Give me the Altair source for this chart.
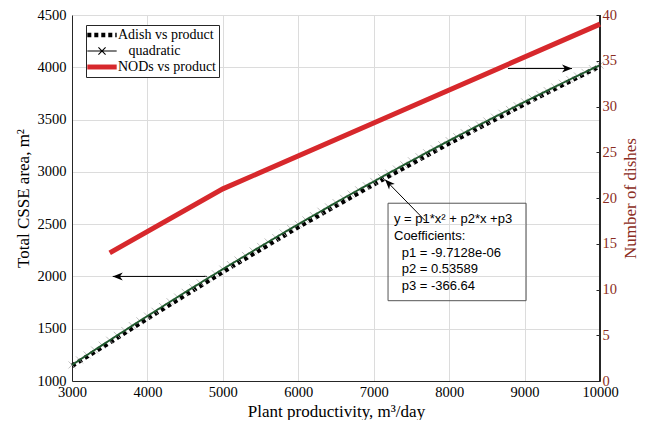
import altair as alt
import pandas as pd

SERIES = ["Adish vs product", "\u200b\u00a0\u00a0\u00a0quadratic", "NODs vs product"]
LEGEND_COLORS = ["#000000", "#000000", "#d7282c"]
ADISH_COLOR = "#000000"
QUAD_COLOR = "#1f5a2d"
NODS_COLOR = "#d7282c"

# Adish vs product (left axis)
adish_x = [3000, 3500, 4000, 5000, 6000, 7000, 8000, 9000, 10000]
adish_y = [1145, 1368, 1598, 2043, 2472, 2880, 3273, 3648, 4012]

# quadratic fit (left axis)
quad_x = list(range(3000, 10001, 100))
quad_y = [1153.6, 1201.3, 1248.8, 1296.0, 1343.1, 1390.0, 1436.7, 1483.2, 1529.5, 1575.6,
          1621.5, 1667.2, 1712.8, 1758.1, 1803.2, 1848.2, 1892.9, 1937.5, 1981.8, 2026.0,
          2070.0, 2113.8, 2157.4, 2200.7, 2243.9, 2286.9, 2329.7, 2372.4, 2414.8, 2457.0,
          2499.0, 2540.9, 2582.5, 2624.0, 2665.2, 2706.3, 2747.1, 2787.8, 2828.3, 2868.6,
          2908.6, 2948.5, 2988.2, 3027.7, 3067.0, 3106.2, 3145.1, 3183.8, 3222.3, 3260.7,
          3298.8, 3336.8, 3374.5, 3412.1, 3449.5, 3486.6, 3523.6, 3560.4, 3597.0, 3633.4,
          3669.6, 3705.6, 3741.4, 3777.0, 3812.4, 3847.7, 3882.7, 3917.6, 3952.2, 3986.7,
          4020.9]

# NODs vs product (right axis)
nods_x = [3500, 5000, 7500, 10000]
nods_y = [14, 21, 30, 39]

x_ticks = [3000, 4000, 5000, 6000, 7000, 8000, 9000, 10000]
y_left_ticks = [1000, 1500, 2000, 2500, 3000, 3500, 4000, 4500]
y_right_ticks = [0, 5, 10, 15, 20, 25, 30, 35, 40]

fit_head = ["y = p1*x\u00b2 + p2*x +p3", "Coefficients:"]
fit_coef = ["p1 = -9.7128e-06", "p2 = 0.53589", "p3 = -366.64"]
fit_head_x = 7269
fit_head_y = 2510
fit_coef_x = 7371
fit_coef_y = 2190
fit_box_x = [7190, 9020]
fit_box_y = [1768, 2700]

arrow_tail_x = [4790, 8780, 7680]
arrow_tail_y = [2000, 3988, 2535]
arrow_tip_x = [3540, 9629, 7150]
arrow_tip_y = [2000, 3988, 2926]
arrow_angle = [180, 0, 226]

SERIF = "Liberation Serif"
SANS = "Liberation Sans"
AX = "#262626"

# legend symbol shapes (unit coords, filled)
ADISH_PATH = ("M-2.67,-0.41H-1.94V0.41H-2.67Z M-1.4,-0.41H-0.67V0.41H-1.4Z "
              "M-0.13,-0.41H0.6V0.41H-0.13Z M1.14,-0.41H1.87V0.41H1.14Z M2.41,-0.41H2.67V0.41H2.41Z")
QUAD_PATH = ("M-2.67,-0.09H2.67V0.09H-2.67Z M-0.58,-0.72L0.72,0.58L0.58,0.72L-0.72,-0.58Z "
             "M-0.72,0.58L0.58,-0.72L0.72,-0.58L-0.58,0.72Z")
NODS_PATH = "M-2.67,-0.45H2.67V0.45H-2.67Z"
X_MARK = "M-1,-1L1,1M-1,1L1,-1"
ARROW_HEAD = "M0,0L-1,-0.4L-0.72,0L-1,0.4Z"

adish_df = pd.DataFrame({"x": adish_x, "y": adish_y})
quad_df = pd.DataFrame({"x": quad_x, "y": quad_y})
nods_df = pd.DataFrame({"x": nods_x, "y": nods_y})
arrows_df = pd.DataFrame({"x": arrow_tail_x, "y": arrow_tail_y,
                          "x2": arrow_tip_x, "y2": arrow_tip_y, "angle": arrow_angle})
box_df = pd.DataFrame({"x": [fit_box_x[0]], "x2": [fit_box_x[1]],
                       "y": [fit_box_y[0]], "y2": [fit_box_y[1]]})
text_data = alt.InlineData(values=[{"x": fit_head_x, "y": fit_head_y, "t": fit_head},
                                   {"x": fit_coef_x, "y": fit_coef_y, "t": fit_coef}])
empty_data = alt.InlineData(values=[])

xscale = alt.Scale(domain=[x_ticks[0], x_ticks[-1]], nice=False)
yl_scale = alt.Scale(domain=[y_left_ticks[0], y_left_ticks[-1]], nice=False)
yr_scale = alt.Scale(domain=[y_right_ticks[0], y_right_ticks[-1]], nice=False)

x_axis = alt.Axis(values=x_ticks, format="d", title="Plant productivity, m\u00b3/day",
                  grid=True, gridColor="#dcdcdc", ticks=False, tickSize=0,
                  domainColor=AX, labelPadding=4, titlePadding=5, labelFlush=False,
                  labelOverlap=False, labelFont=SERIF, labelFontSize=14.5, labelColor="black",
                  titleFont=SERIF, titleFontSize=17, titleFontWeight="normal", titleColor="black")
yl_axis = alt.Axis(values=y_left_ticks, format="d", title="Total CSSE area, m\u00b2",
                   grid=True, gridColor="#dcdcdc", ticks=False, tickSize=0,
                   domainColor=AX, labelPadding=6, titlePadding=5, labelFlush=False,
                   labelOverlap=False, labelFont=SERIF, labelFontSize=14.5, labelColor="black",
                   titleFont=SERIF, titleFontSize=17, titleFontWeight="normal", titleColor="black")
yr_axis = alt.Axis(orient="right", values=y_right_ticks, format="d", title="Number of dishes",
                   grid=False, ticks=True, tickSize=4, offset=-4, tickColor=AX,
                   domain=False, labelPadding=2, titlePadding=6, labelFlush=False,
                   labelOverlap=False, labelFont=SERIF, labelFontSize=14.5,
                   labelColor="#8b2c22", titleColor="#8b2c22",
                   titleFont=SERIF, titleFontSize=17, titleFontWeight="normal",
                   titleAngle=270, titleBaseline="top")

X = alt.X("x:Q", scale=xscale, axis=x_axis)
YL = alt.Y("y:Q", scale=yl_scale, axis=yl_axis)

legend_layer = alt.Chart(empty_data).mark_point(filled=True, opacity=1, strokeWidth=0).encode(
    x=X, y=YL,
    fill=alt.Fill("series:N", scale=alt.Scale(domain=SERIES, range=LEGEND_COLORS),
                  legend=alt.Legend(title=None, labelFont=SERIF, labelFontSize=14)),
    shape=alt.Shape("series:N", scale=alt.Scale(domain=SERIES, range=[ADISH_PATH, QUAD_PATH, NODS_PATH]),
                    legend=alt.Legend(title=None, labelFont=SERIF, labelFontSize=14)),
)

box = alt.Chart(box_df).mark_rect(fillOpacity=0, stroke="#555555", strokeWidth=1).encode(
    x=X, x2="x2:Q", y=YL, y2="y2:Q")
text = alt.Chart(text_data).mark_text(align="left", baseline="alphabetic", font=SANS,
                                      fontSize=13, lineHeight=16.7, color="black").encode(
    x=X, y=YL, text="t:N")
arrow_lines = alt.Chart(arrows_df).mark_rule(color="black", strokeWidth=1).encode(
    x=X, x2="x2:Q", y=YL, y2="y2:Q")
arrow_heads = alt.Chart(arrows_df).mark_point(shape=ARROW_HEAD, filled=True, size=400,
                                              color="black", opacity=1).encode(
    x=alt.X("x2:Q", scale=xscale, axis=x_axis),
    y=alt.Y("y2:Q", scale=yl_scale, axis=yl_axis),
    angle=alt.Angle("angle:Q", scale=None))

adish = alt.Chart(adish_df).mark_line(color=ADISH_COLOR, strokeDash=[4, 3.5], strokeWidth=4.5,
                                      strokeCap="butt").encode(x=X, y=YL)
quad_marks = alt.Chart(quad_df).mark_point(shape=X_MARK, size=49, filled=False,
                                           color="#b0b0b0", strokeWidth=0.8, opacity=1).encode(
    x=X, y=YL)
quad = alt.Chart(quad_df).mark_line(color=QUAD_COLOR, strokeWidth=1.8).encode(x=X, y=YL)
border = alt.Chart(adish_df).mark_rule(color=AX, strokeWidth=1).encode(x=alt.datum(x_ticks[-1]))

left = alt.layer(box, text, arrow_lines, arrow_heads, adish, quad_marks, quad, border, legend_layer)

right = alt.Chart(nods_df).mark_line(color=NODS_COLOR, strokeWidth=5).encode(
    x=X, y=alt.Y("y:Q", scale=yr_scale, axis=yr_axis))

chart = alt.layer(left, right).resolve_scale(y="independent").properties(
    width=528, height=366,
    padding={"left": 64, "top": 7, "right": 40, "bottom": 39},
    autosize=alt.AutoSizeParams(type="none"),
).configure_view(strokeWidth=0).configure_axis(
    labelFont=SERIF, titleFont=SERIF,
).configure_legend(
    orient="none", legendX=14, legendY=10, strokeColor=AX, fillColor="white", padding=3,
    symbolSize=121, symbolOffset=6, labelOffset=9, symbolStrokeWidth=0,
    labelFont=SERIF, labelFontSize=14, labelColor="black", rowPadding=2, labelLimit=300,
)

chart.save("out.html", embed_options={"renderer": "svg", "actions": False})
